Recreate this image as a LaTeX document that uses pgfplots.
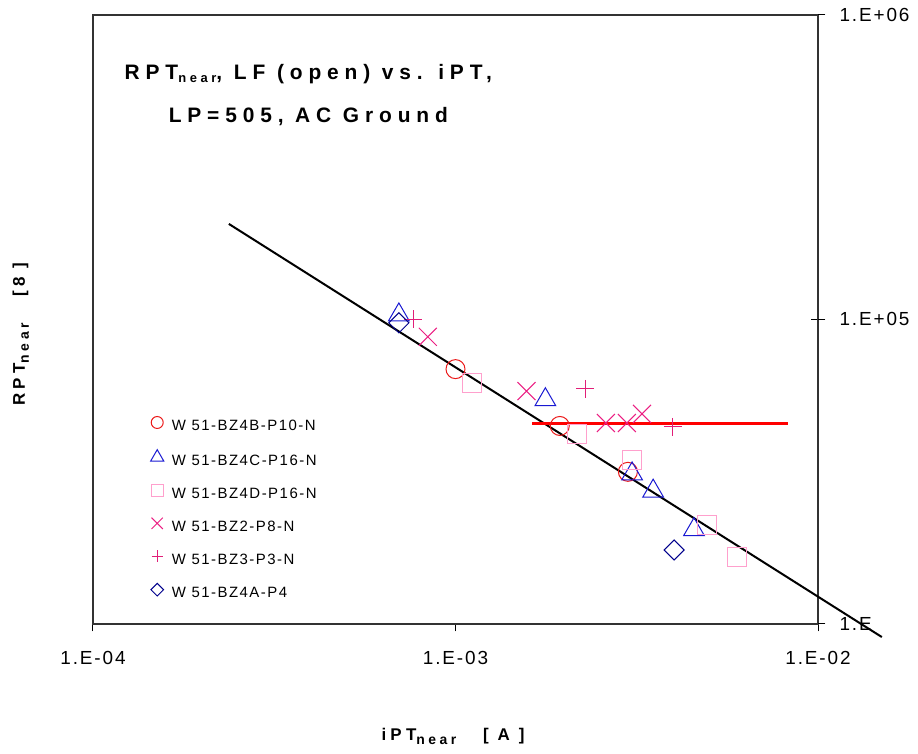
\documentclass[border=0pt]{standalone}
\usepackage{pgfplots}
\pgfplotsset{compat=1.18}
\usepackage{fontspec}
\setmainfont{Liberation Sans}
\newfontfamily\lsfont[LetterSpace=10]{Liberation Sans}
\newfontfamily\tfont[LetterSpace=28]{Liberation Sans}
\newfontfamily\lfont[LetterSpace=25]{Liberation Sans}
\definecolor{cred}{RGB}{235,25,25}
\definecolor{cblue}{RGB}{25,25,210}
\definecolor{cpink}{RGB}{255,160,205}
\definecolor{cmag}{RGB}{235,30,130}
\definecolor{pluscol}{RGB}{225,30,120}
\definecolor{cnavy}{RGB}{0,0,140}
\begin{document}
\begin{tikzpicture}[x=1bp,y=1bp]
\useasboundingbox (0,0) rectangle (918,754);
\begin{axis}[
  at={(93bp,130bp)}, anchor=south west,
  scale only axis, width=725bp, height=609bp,
  xmode=log, ymode=log,
  xmin=1e-4, xmax=1e-2, ymin=1e4, ymax=1e6,
  xtick={1e-4,1e-3,1e-2}, xticklabels={1.E-04,1.E-03,1.E-02},
  ytick={1e4,1e5,1e6}, yticklabels={1.E,1.E+05,1.E+06},
  xminorticks=false, yminorticks=false,
  xtick pos=bottom, ytick pos=right, yticklabel pos=right,
  xtick align=outside, ytick align=inside,
  major tick length=7.5bp,
  extra y ticks={1e4,1e5,1e6}, extra y tick labels={,,},
  extra y tick style={tick align=outside},
  tick style={black, line width=1bp},
  axis line style={black!80, line width=1.3bp},
  /pgf/number format/assume math mode=true,
  tick label style={font=\lsfont\fontsize{19}{22}\selectfont},
  xticklabel style={anchor=base, yshift=-33bp},
  yticklabel style={anchor=west, xshift=18bp},
  clip=false,
  every axis title/.style={at={(axis description cs:0.297,0.9195)}, anchor=north, align=center, inner sep=0pt, font=\tfont\fontsize{21}{43}\selectfont\bfseries},
  title={RPT\raisebox{-3bp}{\fontsize{13}{13}\selectfont near}, LF (open) vs. iPT,\\LP=505, AC Ground},
  every axis x label/.style={at={(axis description cs:0.4966,-0.1905)}, anchor=base, inner sep=0pt, font=\lfont\fontsize{17}{19}\selectfont\bfseries},
  xlabel={iPT\raisebox{-4bp}{\fontsize{14}{14}\selectfont near}\ \ \ [\ A\ ]},
  every axis y label/.style={at={(axis description cs:-0.0938,0.476)}, rotate=90, anchor=base, inner sep=0pt, font=\lfont\fontsize{17}{19}\selectfont\bfseries},
  ylabel={RPT\raisebox{-4bp}{\fontsize{14}{14}\selectfont near}\ \ \ [8 ]},
  legend style={draw=none, fill=none, at={(axis description cs:0.0793,0.341)}, anchor=north west,
    font=\lsfont\fontsize{15}{18}\selectfont, row sep=16.2bp, column sep=8bp, inner sep=0pt,
    nodes={inner sep=0pt, text height=11bp, text depth=3bp}},
  legend cell align=left,
  legend image code/.code={\draw[#1] plot coordinates {(0bp,4bp)};},
  legend image post style={every mark/.append style={scale=0.63}},
]
\addplot[only marks, mark=o, mark size=9.5bp, color=cred, line width=1bp] coordinates {
 (1.00e-3,6.87e4) (1.94e-3,4.47e4) (2.99e-3,3.16e4)};
\addlegendentry{W 51-BZ4B-P10-N}
\addplot[only marks, mark=triangle, mark size=12bp, color=cblue, line width=1bp] coordinates {
 (6.98e-4,1.035e5) (1.77e-3,5.45e4) (3.07e-3,3.11e4) (3.51e-3,2.73e4) (4.55e-3,2.04e4)};
\addlegendentry{W 51-BZ4C-P16-N}
\addplot[only marks, mark=square, mark size=9.5bp, color=cpink, line width=1bp] coordinates {
 (1.11e-3,6.18e4) (2.16e-3,4.21e4) (3.07e-3,3.46e4) (4.94e-3,2.11e4) (5.98e-3,1.66e4)};
\addlegendentry{W 51-BZ4D-P16-N}
\addplot[only marks, mark=x, mark size=12.7bp, color=cmag, line width=1bp] coordinates {
 (8.39e-4,8.77e4) (1.57e-3,5.82e4) (2.60e-3,4.57e4) (2.97e-3,4.57e4) (3.27e-3,4.90e4)};
\addlegendentry{W 51-BZ2-P8-N}
\addplot[only marks, mark=+, mark size=9bp, draw=pluscol, mark options={draw=pluscol}, line width=1bp] coordinates {
 (7.64e-4,1.00e5) (2.28e-3,5.92e4) (3.98e-3,4.44e4)};
\addlegendentry{W 51-BZ3-P3-N}
\addplot[only marks, mark=square, mark size=7.1bp, mark options={rotate=45}, color=cnavy, line width=1bp] coordinates {
 (6.98e-4,9.75e4) (4.01e-3,1.75e4)};
\addlegendentry{W 51-BZ4A-P4}
\addplot[forget plot, black, line width=2bp] coordinates {(2.37e-4,2.06e5) (1.50e-2,9.06e3)};
\addplot[forget plot, red, line width=3bp] coordinates {(1.63e-3,4.54e4) (8.26e-3,4.54e4)};
\end{axis}
\end{tikzpicture}
\end{document}
